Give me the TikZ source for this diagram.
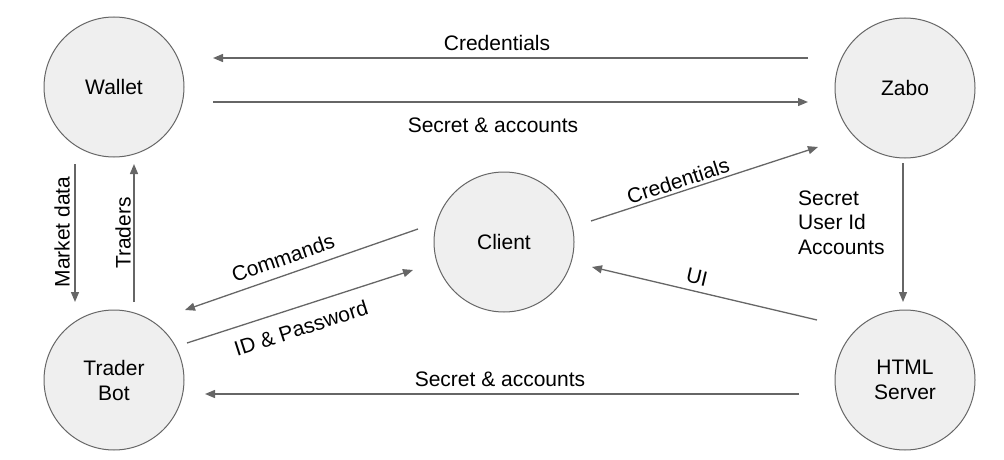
\documentclass[tikz,border=0pt]{standalone}
\usepackage{fontspec}
\setmainfont{Liberation Sans}
\usetikzlibrary{arrows.meta}
\definecolor{circfill}{HTML}{EFEFEF}
\definecolor{linegray}{HTML}{666666}
\tikzset{
  circ/.style={circle, draw=linegray, line width=1pt, fill=circfill, minimum size=140pt, inner sep=0pt, align=center, font=\fontsize{21}{25}\selectfont},
  conn/.style={draw=linegray, line width=1.3pt, -{Triangle[length=10pt,width=8pt]}},
  lbl/.style={inner sep=0pt, font=\fontsize{21}{25}\selectfont}
}
\begin{document}
\begin{tikzpicture}[x=1pt,y=-1pt]
\useasboundingbox (0,0) rectangle (1004,460);
% nodes
\node[circ] (wallet) at (114,87) {Wallet};
\node[circ] (zabo) at (905,88) {Zabo};
\node[circ] (client) at (504,242) {Client};
\node[circ] (bot) at (114,380) {Trader\\Bot};
\node[circ] (server) at (905,380) {HTML\\Server};
% connector ends
\coordinate (zW) at (808,58);   \coordinate (wZ) at (213,58);
\coordinate (wZb) at (213,102); \coordinate (zWb) at (808,102);
\coordinate (wB) at (75,164);   \coordinate (bW) at (75,302);
\coordinate (bWb) at (134,302); \coordinate (wBb) at (134,164);
\coordinate (cZ) at (591,221);  \coordinate (zC) at (818,147);
\coordinate (zS) at (903,163);  \coordinate (sZ) at (903,302);
\coordinate (sC) at (817,320);  \coordinate (cS) at (592,267);
\coordinate (cB) at (418,229);  \coordinate (bC) at (185,310);
\coordinate (bCb) at (187,343); \coordinate (cBb) at (413,270);
\coordinate (sB) at (799,394);  \coordinate (bS) at (205,394);
% connectors
\draw[conn] (zW) -- (wZ);
\draw[conn] (wZb) -- (zWb);
\draw[conn] (wB) -- (bW);
\draw[conn] (bWb) -- (wBb);
\draw[conn] (cZ) -- (zC);
\draw[conn] (zS) -- (sZ);
\draw[conn] (sC) -- (cS);
\draw[conn] (cB) -- (bC);
\draw[conn] (bCb) -- (cBb);
\draw[conn] (sB) -- (bS);
% labels
\node[lbl] (l1) at (497,43) {Credentials};
\node[lbl] (l2) at (493,125) {Secret \& accounts};
\node[lbl, rotate=90] (l3) at (62,232) {Market data};
\node[lbl, rotate=90] (l4) at (123,233) {Traders};
\node[lbl, rotate=18.06] (l5) at (678,181) {Credentials};
\node[lbl, rotate=-13.25] (l6) at (697,277) {UI};
\node[lbl, rotate=19.17] (l7) at (283,258) {Commands};
\node[lbl, rotate=17.9] (l8) at (301,328) {ID \& Password};
\node[lbl] (l9) at (500,379) {Secret \& accounts};
\node[lbl, align=left, anchor=west, font=\fontsize{21}{24.5}\selectfont] (l10) at (798,222.5) {Secret\\User Id\\Accounts};
\end{tikzpicture}
\end{document}
